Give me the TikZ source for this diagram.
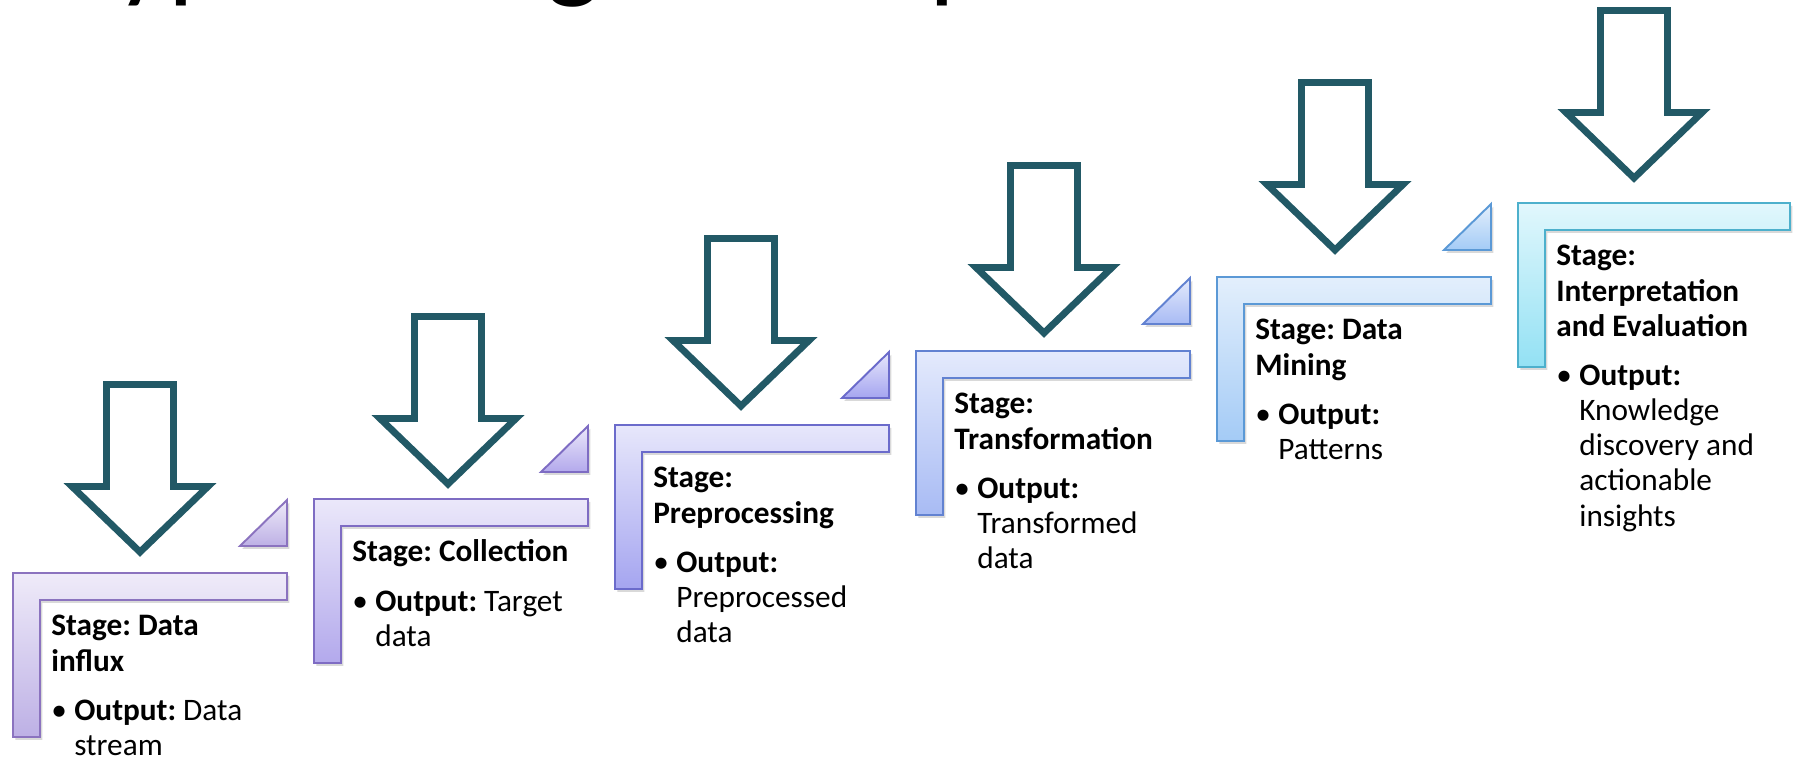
\documentclass[tikz,border=0pt]{standalone}
\usepackage{fontspec}
\setmainfont{Carlito}
\usetikzlibrary{shadows}
\frenchspacing

\definecolor{arrowteal}{HTML}{225966}
\definecolor{lineA}{HTML}{8B73BF}
\definecolor{topA}{HTML}{EFEBF9}
\definecolor{botA}{HTML}{BDB0E5}
\definecolor{lineB}{HTML}{7E6CC3}
\definecolor{topB}{HTML}{EBE8FA}
\definecolor{botB}{HTML}{B3A9EC}
\definecolor{lineC}{HTML}{6B6BCB}
\definecolor{topC}{HTML}{E7E7FB}
\definecolor{botC}{HTML}{A5A5F0}
\definecolor{lineD}{HTML}{6282D1}
\definecolor{topD}{HTML}{E4EAFC}
\definecolor{botD}{HTML}{A8BBF4}
\definecolor{lineE}{HTML}{5B99D6}
\definecolor{topE}{HTML}{E3EFFC}
\definecolor{botE}{HTML}{A4CBF6}
\definecolor{lineF}{HTML}{4DB0CC}
\definecolor{topF}{HTML}{E1F7FC}
\definecolor{botF}{HTML}{93E1F4}

\newcommand{\outitem}{\makebox[0.46cm][l]{\textbullet}}
\newcommand{\outgap}{\hspace*{0.46cm}}

\tikzset{
    stagebar/.style n args={3}{draw=#1, line width=1.1pt, top color=#2, bottom color=#3,
        drop shadow={opacity=0.3, shadow xshift=1.3pt, shadow yshift=-1.6pt}},
    stagearrow/.style={draw=arrowteal, line width=3.9pt, fill=white},
    stagetext/.style={anchor=base west, inner sep=0pt, font=\fontsize{17.8}{20}\selectfont}
}

\begin{document}
\begin{tikzpicture}[x=0.02cm, y=-0.02cm]
        \useasboundingbox (0,0) rectangle (1803,759);
        \clip (0,0) rectangle (1803,759);
        \node[anchor=base west, inner sep=0pt, font=\fontsize{65.4}{70}\selectfont] (title) at (65.5,-12) {Typical stages of a process};
        % stage 1
        \path[stagebar={lineA}{topA}{botA}] (13,573) -- ++(274,0) -- ++(0,27) -- ++(-247,0) -- ++(0,137) -- ++(-27,0) -- cycle;
        \path[stagebar={lineA}{topA}{botA}] (240,546) -- (287,546) -- (287,500) -- cycle;
        \draw[stagearrow] (140,552) -- ++(-68,-65.5) -- ++(34.5,0) -- ++(0,-102) -- ++(67,0) -- ++(0,102) -- ++(34.5,0) -- cycle;
        \node[stagetext] (influx) at (51,636) {\begin{tabular}[t]{@{}l@{}}\textbf{Stage: Data}\\ \textbf{influx}\\[8pt] \outitem\textbf{Output:} Data\\ \outgap stream\\[-6pt]\end{tabular}};
        % stage 2
        \path[stagebar={lineB}{topB}{botB}] (314,499) -- ++(274,0) -- ++(0,27) -- ++(-247,0) -- ++(0,137) -- ++(-27,0) -- cycle;
        \path[stagebar={lineB}{topB}{botB}] (541,472) -- (588,472) -- (588,426) -- cycle;
        \draw[stagearrow] (448,484) -- ++(-68,-65.5) -- ++(34.5,0) -- ++(0,-102) -- ++(67,0) -- ++(0,102) -- ++(34.5,0) -- cycle;
        \node[stagetext] (collection) at (352,562) {\begin{tabular}[t]{@{}l@{}}\textbf{Stage: Collection}\\[8pt] \outitem\textbf{Output:} Target\\ \outgap data\end{tabular}};
        % stage 3
        \path[stagebar={lineC}{topC}{botC}] (615,425) -- ++(274,0) -- ++(0,27) -- ++(-247,0) -- ++(0,137) -- ++(-27,0) -- cycle;
        \path[stagebar={lineC}{topC}{botC}] (842,398) -- (889,398) -- (889,352) -- cycle;
        \draw[stagearrow] (741,406) -- ++(-68,-65.5) -- ++(34.5,0) -- ++(0,-102) -- ++(67,0) -- ++(0,102) -- ++(34.5,0) -- cycle;
        \node[stagetext] (preprocessing) at (653,488) {\begin{tabular}[t]{@{}l@{}}\textbf{Stage:}\\ \textbf{Preprocessing}\\[8pt] \outitem\textbf{Output:}\\ \outgap Preprocessed\\ \outgap data\end{tabular}};
        % stage 4
        \path[stagebar={lineD}{topD}{botD}] (916,351) -- ++(274,0) -- ++(0,27) -- ++(-247,0) -- ++(0,137) -- ++(-27,0) -- cycle;
        \path[stagebar={lineD}{topD}{botD}] (1143,324) -- (1190,324) -- (1190,278) -- cycle;
        \draw[stagearrow] (1044,333) -- ++(-68,-65.5) -- ++(34.5,0) -- ++(0,-102) -- ++(67,0) -- ++(0,102) -- ++(34.5,0) -- cycle;
        \node[stagetext] (transformation) at (954,414) {\begin{tabular}[t]{@{}l@{}}\textbf{Stage:}\\ \textbf{Transformation}\\[8pt] \outitem\textbf{Output:}\\ \outgap Transformed\\ \outgap data\end{tabular}};
        % stage 5
        \path[stagebar={lineE}{topE}{botE}] (1217,277) -- ++(274,0) -- ++(0,27) -- ++(-247,0) -- ++(0,137) -- ++(-27,0) -- cycle;
        \path[stagebar={lineE}{topE}{botE}] (1444,250) -- (1491,250) -- (1491,204) -- cycle;
        \draw[stagearrow] (1335,250) -- ++(-68,-65.5) -- ++(34.5,0) -- ++(0,-102) -- ++(67,0) -- ++(0,102) -- ++(34.5,0) -- cycle;
        \node[stagetext] (mining) at (1255,340) {\begin{tabular}[t]{@{}l@{}}\textbf{Stage: Data}\\ \textbf{Mining}\\[8pt] \outitem\textbf{Output:}\\ \outgap Patterns\end{tabular}};
        % stage 6
        \path[stagebar={lineF}{topF}{botF}] (1518,203) -- ++(272,0) -- ++(0,27) -- ++(-245,0) -- ++(0,137) -- ++(-27,0) -- cycle;
        \draw[stagearrow] (1634,178) -- ++(-68,-65.5) -- ++(34.5,0) -- ++(0,-102) -- ++(67,0) -- ++(0,102) -- ++(34.5,0) -- cycle;
        \node[stagetext] (evaluation) at (1556,266) {\begin{tabular}[t]{@{}l@{}}\textbf{Stage:}\\ \textbf{Interpretation}\\ \textbf{and Evaluation}\\[8pt] \outitem\textbf{Output:}\\ \outgap Knowledge\\ \outgap discovery and\\ \outgap actionable\\ \outgap insights\end{tabular}};
    \end{tikzpicture}
\end{document}
